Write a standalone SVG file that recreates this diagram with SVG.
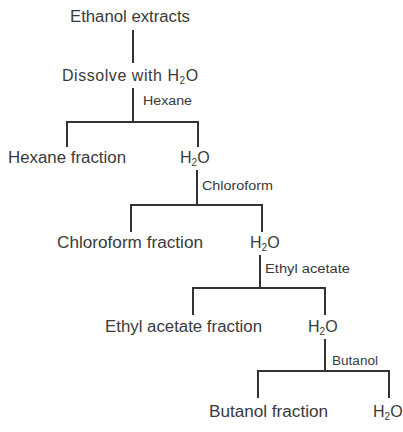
<svg xmlns="http://www.w3.org/2000/svg" width="403" height="432" viewBox="0 0 403 432">
<style>
.t{font-family:"Liberation Sans",Arial,sans-serif;font-size:16px;fill:#3a3a3a}
.s{font-family:"Liberation Sans",Arial,sans-serif;font-size:12px;fill:#3a3a3a}
.sub{font-size:10px}
.c line{stroke:#333;stroke-width:2;stroke-linecap:butt}
</style>
<rect width="403" height="432" fill="#fff"/>
<g class="c" id="connectors">
<line x1="133" y1="30" x2="133" y2="63"/>
<line x1="133" y1="88" x2="133" y2="122"/>
<line x1="66" y1="122" x2="199" y2="122"/>
<line x1="67" y1="122" x2="67" y2="147"/>
<line x1="198" y1="122" x2="198" y2="147"/>
<line x1="197" y1="170" x2="197" y2="205"/>
<line x1="130" y1="205" x2="263" y2="205"/>
<line x1="131" y1="205" x2="131" y2="232"/>
<line x1="262" y1="205" x2="262" y2="232"/>
<line x1="260" y1="255" x2="260" y2="288"/>
<line x1="192" y1="288" x2="326" y2="288"/>
<line x1="193" y1="288" x2="193" y2="315"/>
<line x1="325" y1="288" x2="325" y2="315"/>
<line x1="325" y1="339" x2="325" y2="371"/>
<line x1="257" y1="371" x2="390" y2="371"/>
<line x1="258" y1="371" x2="258" y2="398"/>
<line x1="389" y1="371" x2="389" y2="398"/>
</g>
<g id="n-ethanol"><text class="t" x="70" y="22" textLength="120" lengthAdjust="spacingAndGlyphs">Ethanol extracts</text></g>
<g id="n-dissolve"><text class="t" x="62" y="81" letter-spacing="0.55">Dissolve with H<tspan class="sub" dy="3">2</tspan><tspan dy="-3">O</tspan></text></g>
<g id="l-hexane"><text class="s" x="143" y="105" textLength="49" lengthAdjust="spacingAndGlyphs">Hexane</text></g>
<g id="n-hexane-fraction"><text class="t" x="8" y="163" textLength="118" lengthAdjust="spacingAndGlyphs">Hexane fraction</text></g>
<g id="n-h2o-1"><text class="t" x="180" y="163">H<tspan class="sub" dy="3">2</tspan><tspan dy="-3">O</tspan></text></g>
<g id="l-chloroform"><text class="s" x="202" y="190" textLength="71" lengthAdjust="spacingAndGlyphs">Chloroform</text></g>
<g id="n-chloroform-fraction"><text class="t" x="57" y="248" textLength="146" lengthAdjust="spacingAndGlyphs">Chloroform fraction</text></g>
<g id="n-h2o-2"><text class="t" x="250" y="248">H<tspan class="sub" dy="3">2</tspan><tspan dy="-3">O</tspan></text></g>
<g id="l-ethyl"><text class="s" x="265" y="273" textLength="85" lengthAdjust="spacingAndGlyphs">Ethyl acetate</text></g>
<g id="n-ethyl-fraction"><text class="t" x="105" y="332" textLength="157" lengthAdjust="spacingAndGlyphs">Ethyl acetate fraction</text></g>
<g id="n-h2o-3"><text class="t" x="308" y="332">H<tspan class="sub" dy="3">2</tspan><tspan dy="-3">O</tspan></text></g>
<g id="l-butanol"><text class="s" x="332" y="365" textLength="46" lengthAdjust="spacingAndGlyphs">Butanol</text></g>
<g id="n-butanol-fraction"><text class="t" x="209" y="417" textLength="119" lengthAdjust="spacingAndGlyphs">Butanol fraction</text></g>
<g id="n-h2o-4"><text class="t" x="373" y="417">H<tspan class="sub" dy="3">2</tspan><tspan dy="-3">O</tspan></text></g>
</svg>
